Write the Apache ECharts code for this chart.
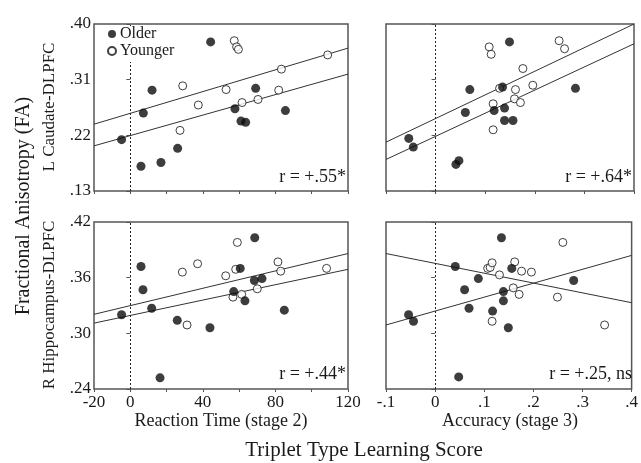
<!DOCTYPE html>
<html><head><meta charset="utf-8">
<script src="https://cdn.jsdelivr.net/npm/echarts@6/dist/echarts.min.js"></script>
<style>html,body{margin:0;padding:0;background:#fff}#c{width:641px;height:463px}</style>
</head><body><div id="c"></div>
<script>
// ---- data ----
var groups = ['Older', 'Younger'];
// Top-left: Reaction time vs L Caudate-DLPFC
var tlOlderX = [-4.8, 7.2, 5.9, 12.0, 16.9, 26.1, 44.3, 57.7, 61.0, 63.6, 69.1, 85.5];
var tlOlderY = [0.213, 0.256, 0.170, 0.293, 0.176, 0.199, 0.371, 0.263, 0.243, 0.241, 0.296, 0.260];
var tlYoungerX = [57.3, 58.6, 59.6, 28.9, 37.5, 27.4, 52.8, 61.6, 70.4, 83.3, 81.8, 108.8];
var tlYoungerY = [0.373, 0.363, 0.359, 0.300, 0.269, 0.228, 0.294, 0.273, 0.278, 0.327, 0.293, 0.350];
var tlFitYoungerX = [-20, 120], tlFitYoungerY = [0.238, 0.361];
var tlFitOlderX = [-20, 120], tlFitOlderY = [0.203, 0.319];
// Top-right: Accuracy vs L Caudate-DLPFC
var trOlderX = [-0.054, -0.045, 0.041, 0.047, 0.069, 0.060, 0.118, 0.139, 0.139, 0.156, 0.135, 0.149, 0.282];
var trOlderY = [0.215, 0.201, 0.173, 0.179, 0.294, 0.257, 0.260, 0.264, 0.244, 0.244, 0.298, 0.371, 0.296];
var trYoungerX = [0.108, 0.112, 0.249, 0.260, 0.176, 0.129, 0.161, 0.196, 0.116, 0.159, 0.171, 0.116];
var trYoungerY = [0.363, 0.351, 0.373, 0.360, 0.328, 0.296, 0.294, 0.301, 0.271, 0.279, 0.273, 0.229];
var trFitYoungerX = [-0.1, 0.4], trFitYoungerY = [0.209, 0.400];
var trFitOlderX = [-0.1, 0.4], trFitOlderY = [0.181, 0.368];
// Bottom-left: Reaction time vs R Hippocampus-DLPFC
var blOlderX = [-4.8, 5.9, 7.0, 11.8, 16.4, 25.9, 43.9, 57.0, 60.6, 63.2, 68.6, 68.4, 72.6, 84.9];
var blOlderY = [0.320, 0.372, 0.347, 0.327, 0.252, 0.314, 0.306, 0.345, 0.370, 0.335, 0.403, 0.357, 0.359, 0.325];
var blYoungerX = [59.0, 28.7, 37.1, 31.3, 52.6, 58.1, 56.6, 61.4, 70.0, 81.4, 82.9, 108.2];
var blYoungerY = [0.398, 0.366, 0.375, 0.309, 0.362, 0.369, 0.339, 0.342, 0.348, 0.377, 0.367, 0.370];
var blFitYoungerX = [-20, 120], blFitYoungerY = [0.3205, 0.386];
var blFitOlderX = [-20, 120], blFitOlderY = [0.311, 0.369];
// Bottom-right: Accuracy vs R Hippocampus-DLPFC
var brOlderX = [-0.054, -0.044, 0.041, 0.060, 0.069, 0.088, 0.048, 0.117, 0.135, 0.139, 0.139, 0.149, 0.156, 0.282];
var brOlderY = [0.320, 0.313, 0.372, 0.347, 0.327, 0.359, 0.253, 0.324, 0.403, 0.345, 0.335, 0.306, 0.370, 0.357];
var brYoungerX = [0.107, 0.112, 0.116, 0.162, 0.176, 0.196, 0.131, 0.159, 0.171, 0.116, 0.249, 0.260, 0.345];
var brYoungerY = [0.370, 0.371, 0.376, 0.377, 0.367, 0.366, 0.363, 0.349, 0.342, 0.313, 0.339, 0.398, 0.309];
var brFitOlderX = [-0.1, 0.4], brFitOlderY = [0.309, 0.384];
var brFitYoungerX = [-0.1, 0.4], brFitYoungerY = [0.386, 0.333];

var topYTicks = [0.13, 0.22, 0.31, 0.40];
var botYTicks = [0.24, 0.30, 0.36, 0.42];
var rtTicks = [-20, 0, 20, 40, 60, 80, 100, 120];
var rtLabels = [-20, 0, 40, 80, 120];
var accTicks = [-0.1, 0, 0.1, 0.2, 0.3, 0.4];
var rLabels = ['r = +.55*', 'r = +.64*', 'r = +.44*', 'r = +.25, ns'];
var rowTitles = ['L Caudate-DLPFC', 'R Hippocampus-DLPFC'];
var colTitles = ['Reaction Time (stage 2)', 'Accuracy (stage 3)'];
var yTitle = 'Fractional Anisotropy (FA)';
var xTitle = 'Triplet Type Learning Score';

// ---- chart ----
var FONT = '"Liberation Serif", "Times New Roman", serif';
var TXT = '#1a1a1a';
function zip(xs, ys) { return xs.map(function (x, i) { return [x, ys[i]]; }); }
function fmtDec(v, d) {
  if (Math.abs(v) < 1e-9) return '0';
  return v.toFixed(d).replace(/^(-?)0\./, '$1.');
}
var grids = [
  { left: 94, top: 24, width: 254, height: 167 },
  { left: 386, top: 24, width: 248, height: 167 },
  { left: 94, top: 222, width: 254, height: 167 },
  { left: 386, top: 222, width: 248, height: 167 }
].map(function (g) {
  g.show = true; g.borderColor = '#555'; g.borderWidth = 1.5; g.backgroundColor = 'transparent'; return g;
});
function xAxisFor(i) {
  var isRT = (i % 2 === 0), bottom = i >= 2;
  return {
    type: 'value', gridIndex: i,
    min: isRT ? -20 : -0.1, max: isRT ? 120 : 0.4,
    axisLine: { show: false },
    splitLine: { show: false },
    axisTick: { show: true, inside: false, length: 3, lineStyle: { color: '#555', width: 1 },
      customValues: isRT ? rtTicks : accTicks },
    axisLabel: { show: bottom, margin: 5, color: TXT, fontFamily: FONT, fontSize: 17,
      customValues: isRT ? rtLabels : accTicks,
      formatter: function (v) { return isRT ? String(Math.round(v)) : fmtDec(v, 1); } }
  };
}
function yAxisFor(i) {
  var top = i < 2, left = (i % 2 === 0);
  var ticks = top ? topYTicks : botYTicks;
  return {
    type: 'value', gridIndex: i,
    min: top ? 0.13 : 0.24, max: top ? 0.40 : 0.42,
    axisLine: { show: false },
    splitLine: { show: false },
    axisTick: { show: true, inside: false, length: 4, lineStyle: { color: '#555', width: 1 }, customValues: ticks },
    axisLabel: { show: left, margin: 3, color: TXT, fontFamily: FONT, fontSize: 17, customValues: ticks,
      formatter: function (v) { return fmtDec(v, 2); } }
  };
}
var panels = [
  [tlOlderX, tlOlderY, tlYoungerX, tlYoungerY, tlFitYoungerX, tlFitYoungerY, tlFitOlderX, tlFitOlderY],
  [trOlderX, trOlderY, trYoungerX, trYoungerY, trFitYoungerX, trFitYoungerY, trFitOlderX, trFitOlderY],
  [blOlderX, blOlderY, blYoungerX, blYoungerY, blFitYoungerX, blFitYoungerY, blFitOlderX, blFitOlderY],
  [brOlderX, brOlderY, brYoungerX, brYoungerY, brFitYoungerX, brFitYoungerY, brFitOlderX, brFitOlderY]
];
var series = [];
panels.forEach(function (p, i) {
  series.push({ name: groups[0] + ' fit', type: 'line', xAxisIndex: i, yAxisIndex: i, data: zip(p[6], p[7]),
    symbol: 'none', silent: true, lineStyle: { color: '#333', width: 1 }, z: 2,
    markLine: { silent: true, symbol: 'none', label: { show: false },
      lineStyle: { color: '#222', type: [2, 2], width: 1 }, data: [{ xAxis: 0 }] } });
  series.push({ name: groups[1] + ' fit', type: 'line', xAxisIndex: i, yAxisIndex: i, data: zip(p[4], p[5]),
    symbol: 'none', silent: true, lineStyle: { color: '#333', width: 1 }, z: 2 });
  series.push({ name: groups[0], type: 'scatter', xAxisIndex: i, yAxisIndex: i, data: zip(p[0], p[1]),
    symbol: 'circle', symbolSize: 9, itemStyle: { color: '#0d0d0d', borderColor: '#0d0d0d', borderWidth: 0 }, z: 4 });
  series.push({ name: groups[1], type: 'scatter', xAxisIndex: i, yAxisIndex: i, data: zip(p[2], p[3]),
    symbol: 'circle', symbolSize: 8, itemStyle: { color: '#fff', borderColor: '#111', borderWidth: 1 }, z: 3 });
});
var graphics = [];
var rPos = [[346, 177], [632, 177], [346, 374], [632, 374]];
rLabels.forEach(function (t, i) {
  graphics.push({ type: 'text', x: rPos[i][0], y: rPos[i][1], style: { text: t, fill: TXT,
    font: '18px ' + FONT, textAlign: 'right', textVerticalAlign: 'middle' } });
});
graphics.push({ type: 'text', x: 50, y: 107, rotation: Math.PI / 2, style: { text: rowTitles[0], fill: TXT,
  font: '17px ' + FONT, textAlign: 'center', textVerticalAlign: 'middle' } });
graphics.push({ type: 'text', x: 50, y: 305, rotation: Math.PI / 2, style: { text: rowTitles[1], fill: TXT,
  font: '17px ' + FONT, textAlign: 'center', textVerticalAlign: 'middle' } });
graphics.push({ type: 'text', x: 24, y: 206, rotation: Math.PI / 2, style: { text: yTitle, fill: TXT,
  font: '20px ' + FONT, textAlign: 'center', textVerticalAlign: 'middle' } });
graphics.push({ type: 'text', x: 221, y: 421, style: { text: colTitles[0], fill: TXT,
  font: '18px ' + FONT, textAlign: 'center', textVerticalAlign: 'middle' } });
graphics.push({ type: 'text', x: 510, y: 421, style: { text: colTitles[1], fill: TXT,
  font: '18px ' + FONT, textAlign: 'center', textVerticalAlign: 'middle' } });
graphics.push({ type: 'text', x: 364, y: 450, style: { text: xTitle, fill: TXT,
  font: '21px ' + FONT, textAlign: 'center', textVerticalAlign: 'middle' } });

var chart = echarts.init(document.getElementById('c'), null, { renderer: 'canvas' });
chart.setOption({
  animation: false,
  backgroundColor: '#fff',
  grid: grids,
  xAxis: [0, 1, 2, 3].map(xAxisFor),
  yAxis: [0, 1, 2, 3].map(yAxisFor),
  legend: { data: groups, orient: 'vertical', left: 104, top: 26, itemWidth: 8, itemHeight: 8, itemGap: 1,
    icon: 'circle', selectedMode: false, backgroundColor: '#fff', padding: [0, 3, 3, 3], z: 20,
    textStyle: { fontFamily: FONT, fontSize: 16, color: TXT, lineHeight: 16, padding: [0, 0, 0, -1] } },
  series: series,
  graphic: graphics
});
</script></body></html>
